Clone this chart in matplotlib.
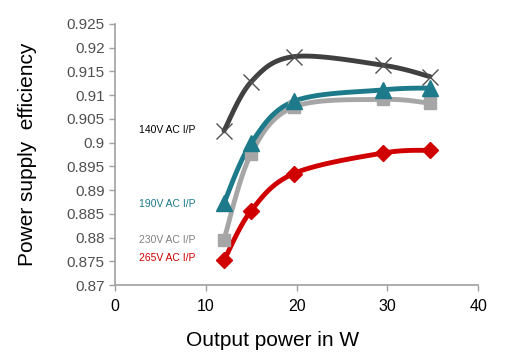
import numpy as np
import matplotlib
matplotlib.use("Agg")
import matplotlib.pyplot as plt

plt.rcParams['font.family'] = ['Liberation Sans', 'DejaVu Sans']

power = [12, 15, 19.7, 29.5, 34.7]
eff_140 = [0.9025, 0.9128, 0.9181, 0.9163, 0.9139]
eff_190 = [0.8873, 0.8999, 0.9087, 0.9111, 0.9115]
eff_230 = [0.8796, 0.8977, 0.9075, 0.9091, 0.9083]
eff_265 = [0.8752, 0.8857, 0.8935, 0.8978, 0.8984]
labels = ["140V AC I/P", "190V AC I/P", "230V AC I/P", "265V AC I/P"]
x_ticks = [0, 10, 20, 30, 40]
y_ticks = [0.87, 0.875, 0.88, 0.885, 0.89, 0.895, 0.9, 0.905, 0.91, 0.915, 0.92, 0.925]


def smooth(x, y, n=30):
    # Catmull-Rom style smoothing (like Excel's smoothed line)
    x = np.asarray(x, float); y = np.asarray(y, float)
    px = np.concatenate([[x[0]], x, [x[-1]]])
    py = np.concatenate([[y[0]], y, [y[-1]]])
    xs, ys = [], []
    for i in range(1, len(px) - 2):
        p0, p1, p2, p3 = (np.array([px[j], py[j]]) for j in (i - 1, i, i + 1, i + 2))
        c1 = p1 + (p2 - p0) / 6
        c2 = p2 - (p3 - p1) / 6
        t = np.linspace(0, 1, n)[:, None]
        b = (1 - t) ** 3 * p1 + 3 * (1 - t) ** 2 * t * c1 + 3 * (1 - t) * t ** 2 * c2 + t ** 3 * p2
        xs.append(b[:, 0]); ys.append(b[:, 1])
    return np.concatenate(xs), np.concatenate(ys)


fig = plt.figure(figsize=(5.07, 3.56), dpi=100)
ax = fig.add_axes([0.227, 0.199, 0.716, 0.734])

series = [
    (eff_140, '#404040', 'x', 11, 1.0),
    (eff_190, '#1C7A8A', '^', 11, 0),
    (eff_230, '#A6A6A6', 's', 9, 0),
    (eff_265, '#D00000', 'D', 8, 0),
]
for ys, c, m, ms, mew in reversed(series):
    sx, sy = smooth(power, ys)
    ax.plot(sx, sy, color=c, lw=3.5, solid_capstyle='round', zorder=2)
    if m == 'x':
        ax.plot(power, ys, linestyle='none', marker=m, ms=ms, mew=mew, color='#505050', zorder=3)
    else:
        ax.plot(power, ys, linestyle='none', marker=m, ms=ms, color=c, zorder=3)

ax.set_xlim(0, 40)
ax.set_ylim(0.87, 0.925)
ax.set_xticks(x_ticks)
ax.set_yticks(y_ticks)
ax.set_yticklabels([f"{v:g}" for v in y_ticks])
ax.tick_params(axis='y', labelsize=11, colors='#A0A0A0', labelcolor='#505050', length=4, width=1)
ax.tick_params(axis='x', labelsize=11.5, colors='#A0A0A0', labelcolor='black', length=4, width=1, pad=6)
for s in ['top', 'right']:
    ax.spines[s].set_visible(False)
for s in ['left', 'bottom']:
    ax.spines[s].set_color('#A0A0A0')
    ax.spines[s].set_linewidth(1.2)

ax.set_xlabel("Output power in W", fontsize=15)
ax.xaxis.set_label_coords(0.435, -0.175)
ax.set_ylabel("Power supply  efficiency", fontsize=15)
ax.yaxis.set_label_coords(-0.215, 0.5)

label_pos = [(2.6, 0.9027, '#000000'), (2.6, 0.8871, '#1C7A8A'), (2.6, 0.8794, '#808080'), (2.6, 0.8757, '#D00000')]
for txt, (lx, ly, c) in zip(labels, label_pos):
    ax.text(lx, ly, txt, fontsize=7.5, color=c, va='center', ha='left')

fig.savefig("out.png", dpi=100)
